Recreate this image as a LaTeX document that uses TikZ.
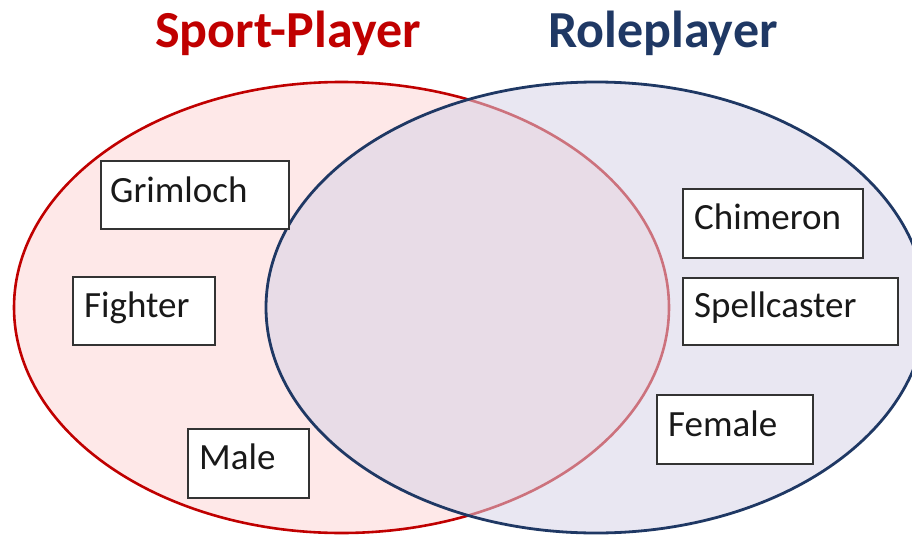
\documentclass[tikz,border=0pt]{standalone}
\usepackage{fontspec}
\setmainfont{Carlito}
\definecolor{redline}{HTML}{C00000}
\definecolor{blueline}{HTML}{1F3864}
\definecolor{redfill}{RGB}{254,232,232}
\definecolor{bluefill}{RGB}{215,211,231}
\begin{document}
\begin{tikzpicture}[x=1pt,y=-1pt,
  box/.style={draw=black!80, line width=1.6pt, fill=white, minimum width=#1, anchor=north west, inner sep=0pt, minimum height=68pt},
  lbl/.style={anchor=base west, inner sep=0pt, font=\fontsize{37}{40}\selectfont, text=black!90},
  ttl/.style={anchor=base west, inner sep=0pt, font=\fontsize{52}{56}\selectfont\bfseries}]
\useasboundingbox (0,0) rectangle (912,535);
\begin{scope}
\clip (0,0) rectangle (912,535);
% red set
\path[fill=redfill, draw=redline, line width=2.6pt] (341.5,307.5) ellipse [x radius=327.5pt, y radius=225.5pt];
% blue set
\path[fill=bluefill, fill opacity=0.54, draw=blueline, line width=2.8pt] (596,307.5) ellipse [x radius=330pt, y radius=225.5pt];
\end{scope}
% titles
\node[ttl, text=redline] (tsp) at (155,48) {Sport-Player};
\node[ttl, text=blueline] (trp) at (548,48) {Roleplayer};
% boxes
\node[box=188pt] (g) at (100,160) {};
\node[lbl] (gl) at ([xshift=10pt,yshift=-42pt]g.north west) {Grimloch};
\node[box=142pt] (f) at (72,276) {};
\node[lbl] (fl) at ([xshift=12pt,yshift=-41pt]f.north west) {Fighter};
\node[box=121pt, minimum height=69pt] (m) at (187,428) {};
\node[lbl] (ml) at ([xshift=12pt,yshift=-41pt]m.north west) {Male};
\node[box=180pt, minimum height=69pt] (c) at (682,188) {};
\node[lbl] (cl) at ([xshift=12pt,yshift=-41pt]c.north west) {Chimeron};
\node[box=215pt, minimum height=67pt] (s) at (682,277) {};
\node[lbl] (sl) at ([xshift=12pt,yshift=-40pt]s.north west) {Spellcaster};
\node[box=156pt, minimum height=69pt] (fe) at (656,394) {};
\node[lbl] (fel) at ([xshift=12pt,yshift=-42pt]fe.north west) {Female};
\end{tikzpicture}
\end{document}
